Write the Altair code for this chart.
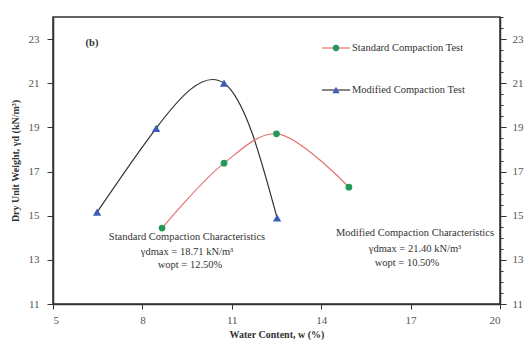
import altair as alt
import pandas as pd

# data
std_w = [8.66, 10.74, 12.50, 14.93]
std_g = [14.44, 17.38, 18.71, 16.29]
mod_w = [6.48, 8.46, 10.74, 12.52]
mod_g = [15.16, 18.96, 21.00, 14.90]

x_ticks = [5, 8, 11, 14, 17, 20]
y_ticks = [11 + 0.5 * i for i in range(27)]

std = pd.DataFrame({"w": std_w, "g": std_g})
mod = pd.DataFrame({"w": mod_w, "g": mod_g})

FONT = "Liberation Serif"
W, H = 447, 287

xs = alt.Scale(domain=[5, 20], nice=False, zero=False)
ys = alt.Scale(domain=[11, 24], nice=False, zero=False)

x_axis = alt.Axis(values=x_ticks, title="Water Content, w (%)", titleFont=FONT,
                  titleFontSize=10, titleFontWeight="bold", titleColor="#333",
                  titlePadding=4, labelFont=FONT, labelFontSize=11, labelColor="#555",
                  tickSize=5, tickColor="#333", domainColor="#333", domainWidth=1.5,
                  grid=False, labelPadding=5)
y_axis = alt.Axis(values=y_ticks, title="Dry Unit Weight, γd (kN/m³)", titleFont=FONT,
                  titleFontSize=10, titleFontWeight="bold", titleColor="#333",
                  titlePadding=8, labelFont=FONT, labelFontSize=11, labelColor="#555",
                  labelExpr="datum.value % 2 == 1 ? format(datum.value, 'd') : ''",
                  tickSize={"condition": {"test": "datum.value % 2 == 1", "value": 6}, "value": 3},
                  tickColor="#333", domainColor="#333", domainWidth=1.5, grid=False,
                  labelPadding=8)

mod_line = alt.Chart(mod).mark_line(interpolate="natural", color="#333", strokeWidth=1.2).encode(
    x=alt.X("w:Q", scale=xs, axis=x_axis),
    y=alt.Y("g:Q", scale=ys, axis=y_axis),
)
mod_pts = alt.Chart(mod).mark_point(shape="triangle-up", filled=True, color="#3d5db5", size=70, opacity=1).encode(
    x=alt.X("w:Q", scale=xs), y=alt.Y("g:Q", scale=ys))
std_line = alt.Chart(std).mark_line(interpolate="catmull-rom", color="#e57373", strokeWidth=1.2).encode(
    x=alt.X("w:Q", scale=xs), y=alt.Y("g:Q", scale=ys))
std_pts = alt.Chart(std).mark_point(shape="circle", filled=True, color="#1e9a5a", size=45, opacity=1).encode(
    x=alt.X("w:Q", scale=xs), y=alt.Y("g:Q", scale=ys))

def txt(s, x, y, size=10.5, align="center", weight="normal"):
    return alt.Chart(pd.DataFrame({"t": [s]})).mark_text(
        font=FONT, fontSize=size, align=align, baseline="middle", color="#333", fontWeight=weight
    ).encode(x=alt.value(x), y=alt.value(y), text="t:N")

# legend (pixel positions relative to plot area origin 53,17)
ox, oy = 53, 17
leg = []
for yy, col, shape, mcol, label in [(48, "#e57373", "circle", "#1e9a5a", "Standard Compaction Test"),
                                     (90, "#333", "triangle-up", "#3d5db5", "Modified Compaction Test")]:
    leg.append(alt.Chart(pd.DataFrame({"a": [0]})).mark_rule(color=col, strokeWidth=1.2).encode(
        x=alt.value(322 - ox), x2=alt.value(350 - ox), y=alt.value(yy - oy)))
    leg.append(alt.Chart(pd.DataFrame({"a": [0]})).mark_point(shape=shape, filled=True, color=mcol,
                                                              size=40 if shape == "circle" else 55, opacity=1).encode(
        x=alt.value(336 - ox), y=alt.value(yy - oy)))
    leg.append(txt(label, 352 - ox, yy - oy, size=10.5, align="left"))

ann = [
    txt("(b)", 92 - ox, 43 - oy, size=10.5, weight="bold"),
    txt("Standard Compaction Characteristics", 187 - ox, 237 - oy),
    txt("γdmax = 18.71 kN/m³", 187 - ox, 252 - oy),
    txt("wopt = 12.50%", 190 - ox, 265 - oy),
    txt("Modified Compaction Characteristics", 415 - ox, 233 - oy),
    txt("γdmax = 21.40 kN/m³", 415 - ox, 249 - oy),
    txt("wopt = 10.50%", 407 - ox, 263 - oy),
]

right = alt.Chart(mod).mark_point(opacity=0).encode(
    x=alt.X("w:Q", scale=xs),
    y=alt.Y("g:Q", scale=ys, axis=alt.Axis(orient="right", values=y_ticks, title=None,
            labelExpr="datum.value % 2 == 1 ? format(datum.value, 'd') : ''",
            tickSize={"condition": {"test": "datum.value % 2 == 1", "value": 6}, "value": 3},
            labelFont=FONT, labelFontSize=11, labelColor="#555", tickColor="#333",
            domainColor="#333", domainWidth=1.5, grid=False, labelPadding=6)))

main = alt.layer(mod_line, mod_pts, std_line, std_pts, *leg, *ann)
chart = alt.layer(main, right).resolve_scale(y="independent").properties(
    width=W, height=H,
    padding={"left": 53, "top": 17, "right": 31, "bottom": 45},
    autosize=alt.AutoSizeParams(type="none"),
    background="white",
).configure_view(stroke="#333", strokeWidth=1.5)

chart.save("out.html", embed_options={"renderer": "svg", "actions": False})
